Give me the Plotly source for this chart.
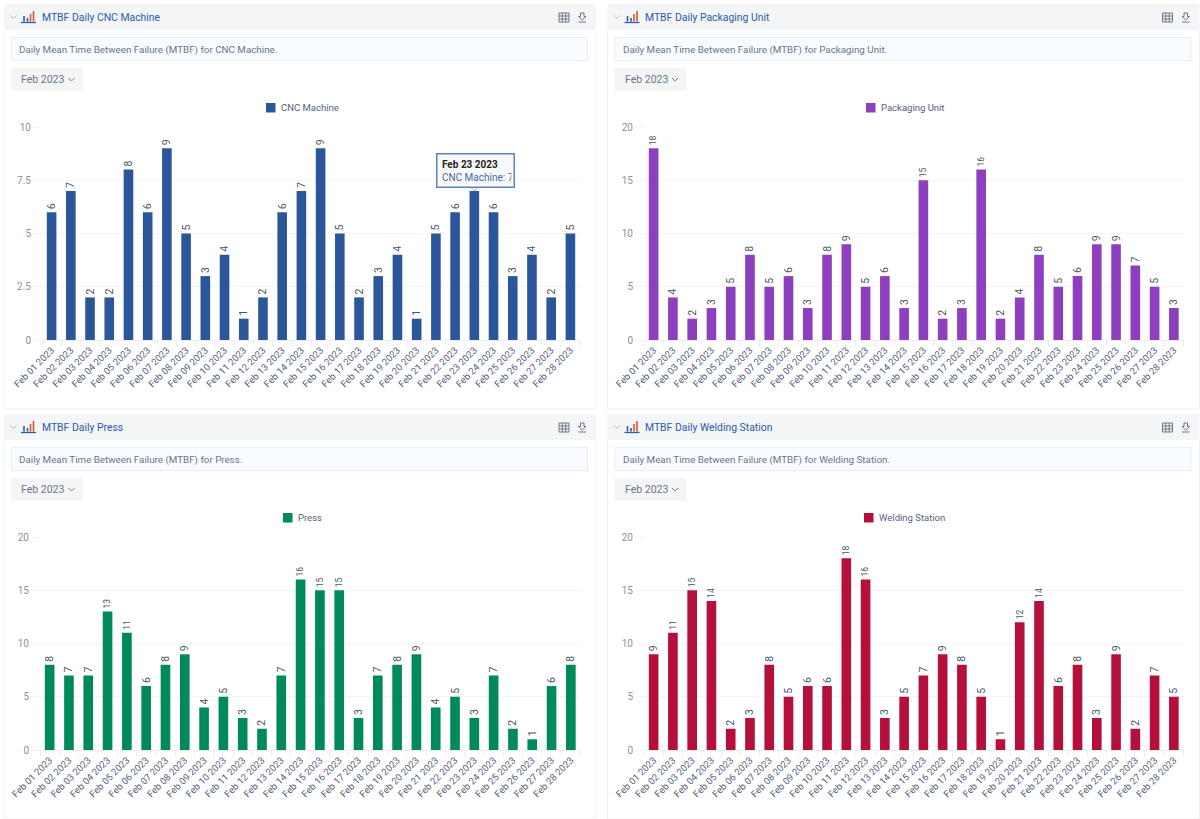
import plotly.graph_objects as go

W, H = 1200, 819
dates = [f"Feb {d:02d} 2023" for d in range(1, 29)]
names = ["CNC Machine", "Packaging Unit", "Press", "Welding Station"]
cnc = [6,7,2,2,8,6,9,5,3,4,1,2,6,7,9,5,2,3,4,1,5,6,7,6,3,4,2,5]
packaging = [18,4,2,3,5,8,5,6,3,8,9,5,6,3,15,2,3,16,2,4,8,5,6,9,9,7,5,3]
press = [8,7,7,13,11,6,8,9,4,5,3,2,7,16,15,15,3,7,8,9,4,5,3,7,2,1,6,8]
welding = [9,11,15,14,2,3,8,5,6,6,18,16,3,5,7,9,8,5,1,12,14,6,8,3,9,2,7,5]
series = [cnc, packaging, press, welding]
colors = ["#2b579a", "#8e3fc0", "#008a5a", "#b5103c"]
ymax = [10, 20, 20, 20]
dticks = [2.5, 5, 5, 5]
origin = [(0, 0), (603.5, 0), (0, 410), (603.5, 410)]
plot_span = [(42, 580), (40.5, 580), (40, 580.5), (40.5, 580)]
legend_left = [266, 262.5, 283, 260.5]

FONT = "Roboto"
TXT = "#55627a"
px = lambda x: x / W
py = lambda y: 1 - y / H

fig = go.Figure()
shapes, annos = [], []

def rect(x0, y0, x1, y1, fill, line=None, lw=1):
    shapes.append(dict(type="rect", xref="paper", yref="paper", x0=px(x0), x1=px(x1), y0=py(y0), y1=py(y1),
                       fillcolor=fill, line=dict(color=line or fill, width=lw if line else 0), layer="below"))

def seg(x0, y0, x1, y1, color, lw=1):
    shapes.append(dict(type="line", xref="paper", yref="paper", x0=px(x0), x1=px(x1), y0=py(y0), y1=py(y1),
                       line=dict(color=color, width=lw)))

def label(x, y, text, size, color, anchor="left"):
    annos.append(dict(xref="paper", yref="paper", x=px(x), y=py(y), text=text, showarrow=False,
                      xanchor=anchor, yanchor="middle", borderpad=0,
                      font=dict(family=FONT, size=size, color=color)))

for i, (name, vals, col) in enumerate(zip(names, series, colors)):
    ox, oy = origin[i]
    ax = "" if i == 0 else str(i + 1)
    fig.add_trace(go.Bar(x=dates, y=vals, name=name, marker=dict(color=col, line=dict(width=0)),
                         text=vals, textposition="outside", textangle=-90, cliponaxis=False,
                         textfont=dict(family=FONT, size=10.5, color="#4a5568"),
                         xaxis=f"x{ax}", yaxis=f"y{ax}", showlegend=False))
    xa = dict(domain=[px(ox + plot_span[i][0]), px(ox + plot_span[i][1])], type="category", tickangle=-45,
              tickson="boundaries", showgrid=False, ticks="outside", ticklen=6, tickcolor="#eceff3",
              linecolor="#eceff3", showline=True, tickfont=dict(family=FONT, size=9.5, color=TXT),
              anchor=f"y{ax}", fixedrange=True, categoryorder="array", categoryarray=dates)
    ya = dict(domain=[py(oy + 340), py(oy + 127)], range=[0, ymax[i]], dtick=dticks[i], tick0=0,
              showgrid=True, gridcolor="#f3f4f6", gridwidth=1, zeroline=False, ticks="outside", ticklen=8,
              tickcolor="#f3f4f6", showline=False, tickfont=dict(family=FONT, size=10, color="#8a929e"),
              anchor=f"x{ax}", fixedrange=True)
    fig.update_layout({f"xaxis{ax}": xa, f"yaxis{ax}": ya})

    lx = ox + legend_left[i]
    rect(lx, oy + 103, lx + 9.5, oy + 112.5, col)
    label(lx + 14, oy + 107.5, name, 9.5, TXT)

    seg(ox + 4, oy + 30, ox + 4, oy + 409, "#f0f1f4")
    seg(ox + 596, oy + 30, ox + 596, oy + 409, "#f0f1f4")
    seg(ox + 4, oy + 409, ox + 596, oy + 409, "#f0f1f4")
    rect(ox + 4, oy + 4, ox + 596, oy + 30, "#f4f5f7")
    rect(ox + 11.5, oy + 37.5, ox + 587.5, oy + 60.5, "#f8fbff", "#e6eefb")
    rect(ox + 11, oy + 68, ox + 83, oy + 91, "#f4f5f7")
    label(ox + 40.5, oy + 17.5, f"MTBF Daily {name}", 10.4, "#2a5ca8")
    label(ox + 18, oy + 49.5, f"Daily Mean Time Between Failure (MTBF) for {name}.", 9.8, "#6b7688")
    label(ox + 20, oy + 79.5, "Feb 2023", 10.5, "#6b7688")
    for cx, cy, c in [(ox + 13.5, oy + 17, "#b5bac4"), (ox + 71.5, oy + 79.5, "#77808f")]:
        seg(cx - 3, cy - 1.5, cx, cy + 1.5, c)
        seg(cx, cy + 1.5, cx + 3, cy - 1.5, c)
    for bx, top, c in [(24, 16, "#2a5ca8"), (27.5, 18, "#2a5ca8"), (30.5, 14, "#d9532c"), (33.5, 11, "#d9532c")]:
        seg(ox + bx, oy + 21.5, ox + bx, oy + top, c, 1.6)
    seg(ox + 21, oy + 22.5, ox + 36, oy + 22.5, "#2a5ca8", 1.3)
    rect(ox + 559, oy + 13, ox + 569, oy + 22, "rgba(0,0,0,0)", "#6f7785", 1)
    for gx in (562.3, 565.7):
        seg(ox + gx, oy + 13, ox + gx, oy + 22, "#6f7785")
    for gy in (16, 19):
        seg(ox + 559, oy + gy, ox + 569, oy + gy, "#6f7785")
    shapes.append(dict(type="path", xref="paper", yref="paper", line=dict(color="#6f7785", width=1),
                       path=" ".join(f"{c} {px(ox+a)} {py(oy+b)}" for c, a, b in
                                     [("M", 580.5, 13), ("L", 584, 13), ("L", 584, 16.5), ("L", 586, 16.5),
                                      ("L", 582.2, 20), ("L", 578.5, 16.5), ("L", 580.5, 16.5)]) + " Z"))
    seg(ox + 578.5, oy + 22, ox + 586, oy + 22, "#6f7785")

tip_day, tip_val = dates[22], cnc[22]
annos.append(dict(xref="x", yref="y", x=tip_day, y=tip_val, yshift=3, xshift=1, yanchor="bottom", xanchor="center",
                  showarrow=False, align="left", width=72, height=28, borderpad=2,
                  text=f"&nbsp;<b>{tip_day}</b><br>&nbsp;<span style='color:#3f68a8'>CNC Machine: {tip_val}</span>",
                  bgcolor="#f9f9f9", bordercolor="#5f82b8", borderwidth=1.5,
                  font=dict(family=FONT, size=10, color="#222222")))
shapes.append(dict(type="path", xref="x", yref="y", xsizemode="pixel", ysizemode="pixel",
                   xanchor=tip_day, yanchor=tip_val, path="M -4 4 L 4 4 L 0 0 Z",
                   fillcolor="#ffffff", line=dict(color="#aab4c4", width=1)))

fig.update_layout(width=W, height=H, margin=dict(l=0, r=0, t=0, b=0, autoexpand=False),
                  paper_bgcolor="white", plot_bgcolor="white",
                  bargap=0.5, shapes=shapes, annotations=annos, font=dict(family=FONT), hovermode="closest")
fig.write_html("out.html", config={"displayModeBar": False},
               post_script="document.body.style.margin='0';document.body.style.overflow='hidden';")
